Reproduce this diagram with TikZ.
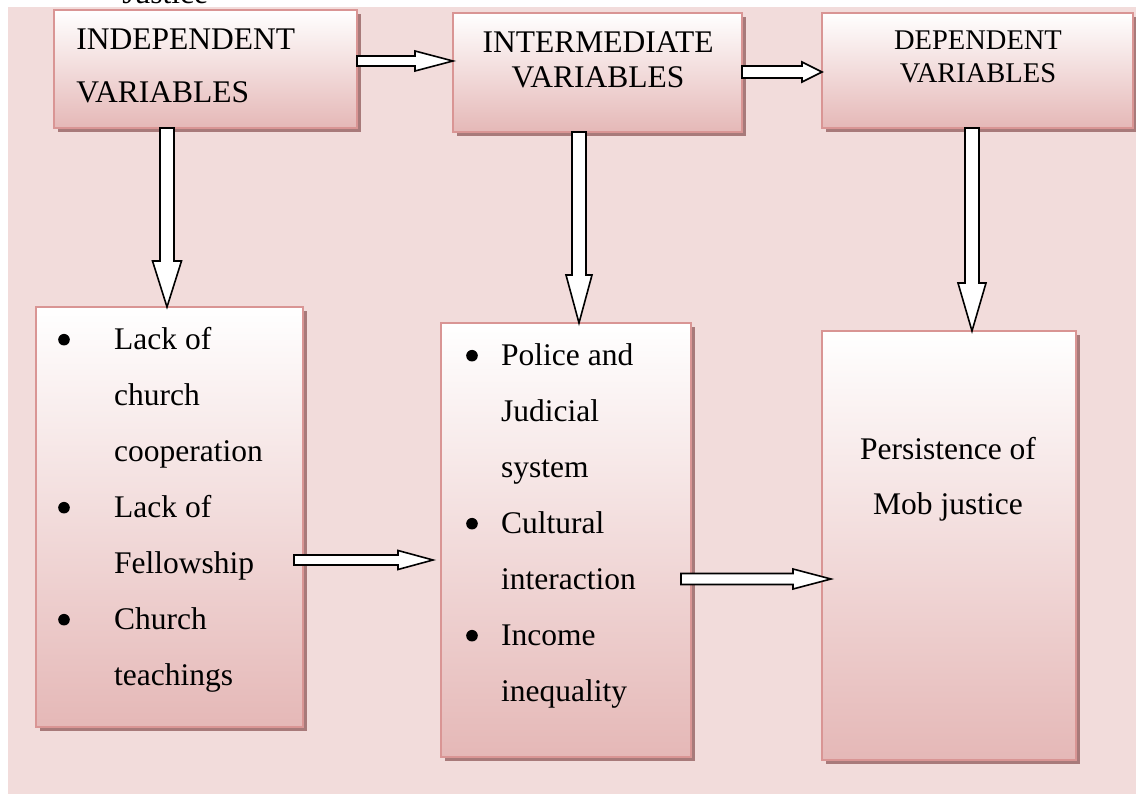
\documentclass[tikz,border=0pt]{standalone}
\usepackage{fontspec}
\setmainfont{Liberation Serif}
\usetikzlibrary{calc,shadows}

\definecolor{bgpink}{RGB}{242,220,219}
\definecolor{boxline}{RGB}{217,149,148}
\definecolor{boxbot}{RGB}{229,184,183}
\definecolor{boxshade}{RGB}{168,122,122}

\tikzset{every picture/.style={line width=0.75pt}}
\tikzset{
	varbox/.style={draw=boxline, line width=2pt, top color=white, bottom color=boxbot,
		inner sep=0pt, outer sep=0pt, anchor=north west,
		drop shadow={shadow xshift=4pt, shadow yshift=-4pt, fill=boxshade, opacity=1}},
	hdr/.style={inner sep=0pt, anchor=base, font=\fontsize{31.5}{38}\selectfont},
	lst/.style={inner sep=0pt, anchor=base west, font=\fontsize{31.5}{56}\selectfont},
	blockline/.style={draw=black, fill=white, line width=1.6pt, line join=miter}}

% list bullet
\newcommand{\lbul}{\raisebox{4.5pt}{\tikz\fill (0,0) circle (5.8pt);}}

% block arrow: start, tip, shaft half width, head half width, head length
\newcommand{\blockarrow}[5]{%
	\coordinate (#2-hb) at ($(#2)!#5!(#1)$);
	\draw[blockline] ($(#1)!#3!90:(#2)$) -- ($(#2-hb)!#3!-90:(#1)$) -- ($(#2-hb)!#4!-90:(#1)$) -- (#2) -- ($(#2-hb)!#4!90:(#1)$) -- ($(#2-hb)!#3!90:(#1)$) -- ($(#1)!#3!-90:(#2)$) -- cycle;}

\begin{document}
\begin{tikzpicture}[x=1pt,y=1pt,yscale=-1,xscale=1]
	\useasboundingbox (0,0) rectangle (1136,794);

	% background
	\fill[bgpink] (8,7) rectangle (1136,794);
	\node[lst] (jus) at (122,4) {Justice};

	% top row
	\node[varbox, minimum width=303pt, minimum height=118pt] (ind) at (54,10) {};
	\node[varbox, minimum width=289pt, minimum height=119pt] (int) at (453,13) {};
	\node[varbox, minimum width=311pt, minimum height=115pt] (dep) at (822,13) {};

	% bottom row
	\node[varbox, minimum width=267pt, minimum height=420pt] (lst1) at (36,307) {};
	\node[varbox, minimum width=250pt, minimum height=434pt] (lst2) at (441,323) {};
	\node[varbox, minimum width=254pt, minimum height=429pt] (res) at (822,331) {};

	% arrows
	\coordinate (a1) at (ind.east |- 0,61);
	\coordinate (b1) at (int.west |- 0,61);
	\blockarrow{a1}{b1}{5pt}{10pt}{38pt}
	\coordinate (a2) at (int.east |- 0,72);
	\coordinate (b2) at (dep.west |- 0,72);
	\blockarrow{a2}{b2}{6pt}{10pt}{20pt}
	\coordinate (a3) at (ind.south -| 167,0);
	\coordinate (b3) at (lst1.north -| 167,0);
	\blockarrow{a3}{b3}{7pt}{14.5pt}{46pt}
	\coordinate (a4) at (int.south -| 579,0);
	\coordinate (b4) at (lst2.north -| 579,0);
	\blockarrow{a4}{b4}{7pt}{13pt}{48pt}
	\coordinate (a5) at (dep.south -| 972,0);
	\coordinate (b5) at (res.north -| 972,0);
	\blockarrow{a5}{b5}{7pt}{14pt}{48pt}
	\coordinate (a6) at ($(lst1.east |- 0,560)+(-9,0)$);
	\coordinate (b6) at ($(lst2.west |- 0,560)+(-8,0)$);
	\blockarrow{a6}{b6}{5pt}{9.5pt}{35pt}
	\coordinate (a7) at ($(lst2.east |- 0,579)+(-10,0)$);
	\coordinate (b7) at ($(res.west |- 0,579)+(9,0)$);
	\blockarrow{a7}{b7}{5.5pt}{10pt}{38pt}

	% Text Node
	\node[hdr, anchor=base west] (ind1) at (76,50) {INDEPENDENT};
	\node[hdr, anchor=base west] (ind2) at (76,103) {VARIABLES};
	\node[hdr] (int1) at (598,53) {INTERMEDIATE};
	\node[hdr] (int2) at (598,88) {VARIABLES};
	\node[hdr, font=\fontsize{28.5}{34}\selectfont] (dep1) at (978,50) {DEPENDENT};
	\node[hdr, font=\fontsize{28.5}{34}\selectfont] (dep2) at (978,83) {VARIABLES};

	% Text Node
	\node[lst] (lst1txt) at (58,350) {\begin{tabular}[t]{@{}p{56pt}@{}l@{}}
		\lbul & Lack of\\ & church\\ & cooperation\\
		\lbul & Lack of\\ & Fellowship\\
		\lbul & Church\\ & teachings\end{tabular}};
	\node[lst] (lst2txt) at (466,366) {\begin{tabular}[t]{@{}p{35pt}@{}l@{}}
		\lbul & Police and\\ & Judicial\\ & system\\
		\lbul & Cultural\\ & interaction\\
		\lbul & Income\\ & inequality\end{tabular}};
	\node[hdr] (res1) at (948,459) {Persistence of};
	\node[hdr] (res2) at (948,514) {Mob justice};

\end{tikzpicture}
\end{document}
